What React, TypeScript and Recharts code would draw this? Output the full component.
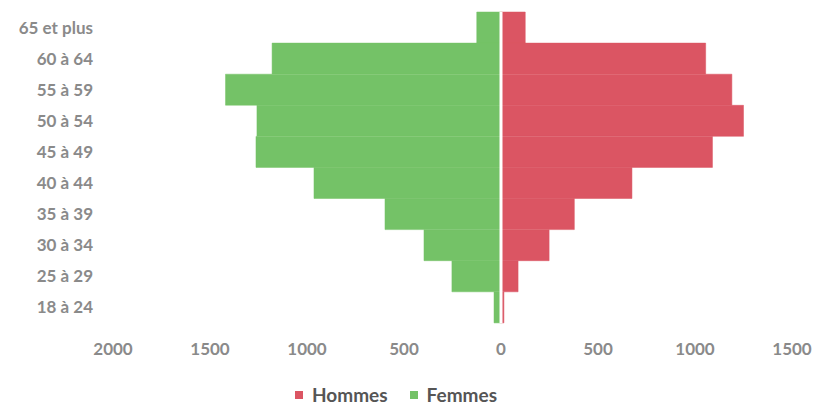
import React from 'react'
import { Bar, BarChart, XAxis, YAxis, Legend, ReferenceLine } from 'recharts'

const ages = ['65 et plus', '60 à 64', '55 à 59', '50 à 54', '45 à 49', '40 à 44', '35 à 39', '30 à 34', '25 à 29', '18 à 24']
const hommes = [125, 1055, 1190, 1250, 1090, 675, 378, 248, 88, 15]
const femmes = [125, 1180, 1420, 1258, 1263, 964, 598, 397, 253, 36]
const xTicks = [-2000, -1500, -1000, -500, 0, 500, 1000, 1500]

const series = [
  { key: 'hommes', name: 'Hommes', color: '#db5563' },
  { key: 'femmes', name: 'Femmes', color: '#74c267' },
]

const data = ages.map((age, i) => ({ age, hommes: hommes[i], femmes: -femmes[i] }))

const font = 'Lato, "Open Sans", sans-serif'

function LegendBox() {
  return (
    <div style={{ display: 'flex', justifyContent: 'center', gap: 22, fontFamily: font, lineHeight: '22px', height: 22 }}>
      {series.map((s) => (
        <div key={s.key} style={{ display: 'flex', alignItems: 'center', gap: 9 }}>
          <span style={{ width: 8, height: 8, background: s.color, display: 'inline-block' }} />
          <span style={{ fontSize: 19, fontWeight: 700, color: '#555' }}>{s.name}</span>
        </div>
      ))}
    </div>
  )
}

export default function App() {
  return (
    <div style={{ position: 'absolute', left: 0, top: 0, background: '#fff' }}>
      <BarChart
        width={819}
        height={407}
        data={data}
        layout="vertical"
        stackOffset="sign"
        barCategoryGap={0}
        margin={{ top: 12, right: 27, bottom: 0, left: 0 }}
      >
        <XAxis
          type="number"
          domain={[-2000, 1500]}
          ticks={xTicks}
          tickFormatter={(v: number) => String(Math.abs(v))}
          axisLine={false}
          tickLine={false}
          tickMargin={14}
          height={61}
          tick={{ fill: '#8a8a8a', fontSize: 17, fontWeight: 700, fontFamily: font }}
        />
        <YAxis
          type="category"
          dataKey="age"
          width={113}
          axisLine={false}
          tickLine={false}
          tickMargin={14}
          tick={{ fill: '#8a8a8a', fontSize: 17, fontWeight: 700, fontFamily: font }}
        />
        <Legend verticalAlign="bottom" height={23} content={() => <LegendBox />} />
        {series.map((s) => (
          <Bar key={s.key} dataKey={s.key} name={s.name} stackId="a" fill={s.color} stroke={s.color} strokeWidth={0.5} isAnimationActive={false} />
        ))}
        <ReferenceLine x={0} stroke="#fff" strokeWidth={3} />
      </BarChart>
    </div>
  )
}
